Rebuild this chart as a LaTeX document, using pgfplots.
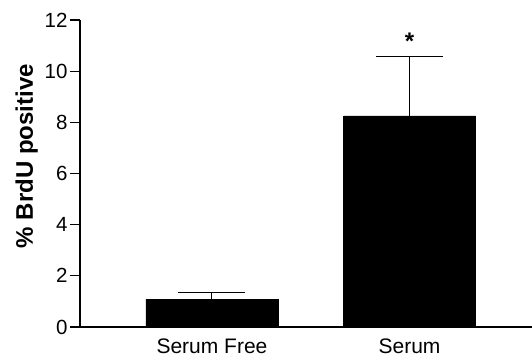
\documentclass[border=0pt]{standalone}
\usepackage{pgfplots}
\pgfplotsset{compat=1.18}
\usepackage{fontspec}
\setmainfont{Liberation Sans}
\begin{document}
\begin{tikzpicture}
\useasboundingbox (0,0) rectangle (532bp,358bp);
\begin{axis}[
  at={(80bp,31bp)}, anchor=south west,
  scale only axis, width=452bp, height=307bp,
  xmin=0.332, xmax=2.62, ymin=0, ymax=12,
  axis x line*=bottom, axis y line*=left,
  axis line style={line width=1.2bp, -},
  xtick={1,2}, xticklabels={Serum Free, Serum},
  x tick style={draw=none},
  ytick={0,2,4,6,8,10,12},
  y tick style={line width=1.2bp, black},
  tick align=outside, major tick length=10bp,
  /pgf/number format/assume math mode=true,
  tick label style={font=\fontsize{20.5bp}{22bp}\selectfont},
  yticklabel style={xshift=1bp},
  xticklabel style={yshift=1.5bp, font=\fontsize{21bp}{23bp}\selectfont},
  ylabel={\bfseries \% BrdU positive},
  ylabel style={font=\fontsize{24bp}{26bp}\selectfont},
  every axis y label/.append style={at={(ticklabel cs:0.56)}, xshift=-1bp},
  ybar, bar width=132bp, bar shift=0pt,
  clip=false,
]
\addplot[fill=black, draw=black,
  error bars/.cd, y dir=plus, y explicit,
  error mark=|,
  error bar style={line width=1bp, black},
  error mark options={line width=1bp, black, mark size=33.5bp}]
  coordinates {(1,1.09) +- (0,0.24) (2,8.25) +- (0,2.34)};
\node[font=\fontsize{24bp}{26bp}\selectfont\bfseries] at (axis cs:2,11.15) {*};
\end{axis}
\end{tikzpicture}
\end{document}
